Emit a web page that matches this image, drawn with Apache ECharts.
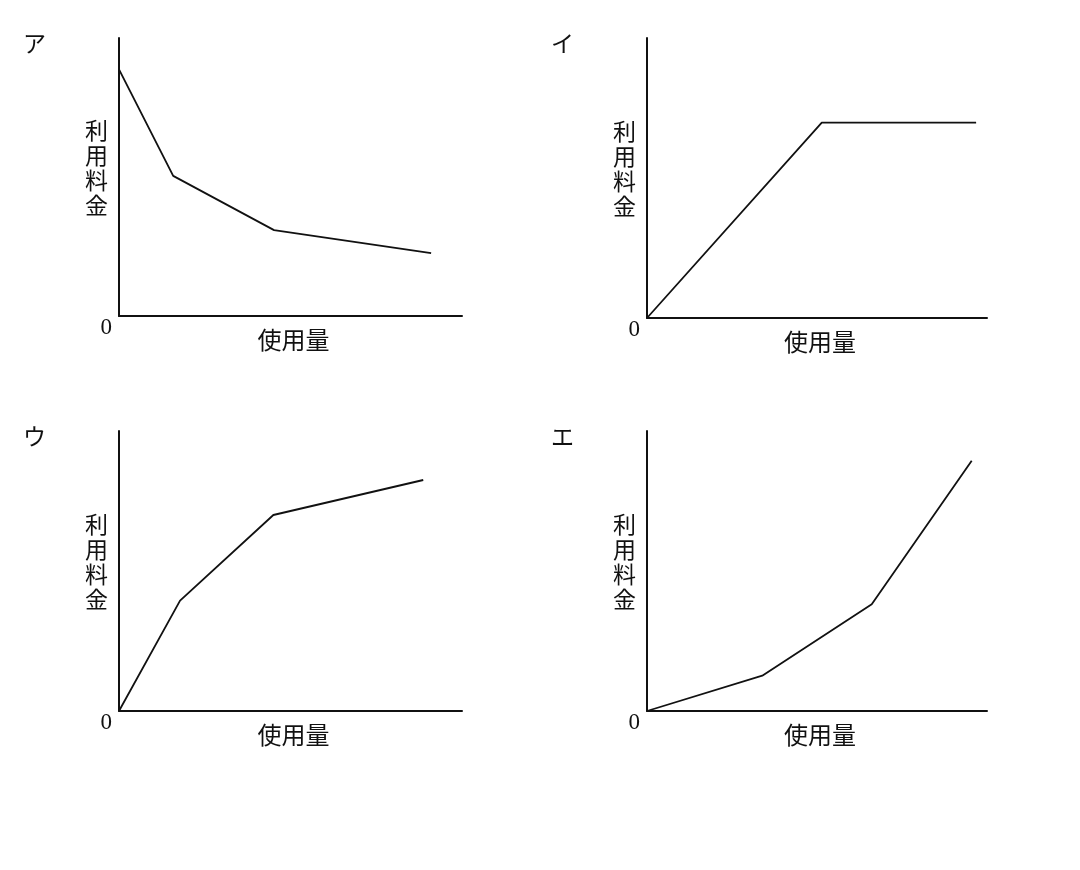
<!DOCTYPE html>
<html>
<head>
<meta charset="utf-8">
<script src="https://cdn.jsdelivr.net/npm/echarts@6/dist/echarts.min.js"></script>
<style>
  html, body { margin: 0; padding: 0; background: #fff; }
  #main { width: 1080px; height: 870px; }
</style>
</head>
<body>
<div id="main"></div>
<script>
// パネル名とラベル
const panelNames = ['ア', 'イ', 'ウ', 'エ'];
const xName = '使用量';
const yName = '利用料金';

// 各グラフの折れ線 [使用量, 利用料金] (0〜100 の相対値)
const lineA = [[0, 88.7], [15.8, 50.4], [45.2, 30.9], [91.0, 22.6]];
const lineI = [[0, 0], [51.4, 69.8], [96.8, 69.8]];
const lineU = [[0, 0], [17.8, 39.4], [45.0, 70.0], [88.7, 82.5]];
const lineE = [[0, 0], [33.9, 12.6], [66.1, 38.1], [95.5, 89.4]];
const allLines = [lineA, lineI, lineU, lineE];

const initCharts = () => {
    const dom = document.getElementById('main');
    const myChart = echarts.init(dom, null, { renderer: 'canvas' });

    const ink = '#111';
    const gridPos = [
        { left: 119, top: 38, width: 343, height: 278 },
        { left: 647, top: 38, width: 340, height: 280 },
        { left: 119, top: 431, width: 343, height: 280 },
        { left: 647, top: 431, width: 340, height: 280 }
    ];
    const titlePos = [
        { left: 23, top: 32 },
        { left: 551, top: 32 },
        { left: 23, top: 425 },
        { left: 551, top: 425 }
    ];

    // 縦書きの軸名 (下に空行を足して少し上に寄せる)
    const yNameRich = yName.split('').map(c => '{t|' + c + '}').join('\n') + '\n{s| }';

    const option = {
        backgroundColor: '#fff',
        title: panelNames.map((n, i) => ({
            text: n,
            left: titlePos[i].left,
            top: titlePos[i].top,
            padding: 0,
            textStyle: {
                fontFamily: 'Noto Sans CJK JP',
                fontSize: 23,
                fontWeight: 'normal',
                color: ink
            }
        })),
        grid: gridPos.map(g => Object.assign({ containLabel: false }, g)),
        xAxis: gridPos.map((g, i) => ({
            type: 'value',
            gridIndex: i,
            min: 0,
            max: 100,
            name: xName,
            nameLocation: 'middle',
            nameGap: 12,
            nameMoveOverlap: false,
            nameTextStyle: {
                fontFamily: 'Noto Sans CJK JP',
                fontSize: 24,
                color: ink,
                padding: [0, 0, 0, 6]
            },
            axisLine: { onZero: false, lineStyle: { color: ink, width: 2 } },
            axisTick: { show: false },
            axisLabel: { show: false },
            splitLine: { show: false }
        })),
        yAxis: gridPos.map((g, i) => ({
            type: 'value',
            gridIndex: i,
            min: 0,
            max: 100,
            name: yNameRich,
            nameLocation: 'middle',
            nameRotate: 0,
            nameGap: 11,
            nameMoveOverlap: false,
            nameTextStyle: {
                fontFamily: 'Noto Sans CJK JP',
                color: ink,
                rich: {
                    t: { fontFamily: 'Noto Sans CJK JP', fontSize: 23, lineHeight: 25, color: ink },
                    s: { fontSize: 10, lineHeight: 18 }
                }
            },
            axisLine: { show: true, onZero: false, lineStyle: { color: ink, width: 2 } },
            axisTick: { show: false },
            axisLabel: {
                show: true,
                showMinLabel: true,
                formatter: v => (v === 0 ? '0' : ''),
                fontFamily: 'Liberation Serif',
                fontSize: 23,
                color: ink,
                verticalAlign: 'top',
                margin: 7
            },
            splitLine: { show: false }
        })),
        series: allLines.map((d, i) => ({
            type: 'line',
            xAxisIndex: i,
            yAxisIndex: i,
            data: d,
            symbol: 'none',
            silent: true,
            lineStyle: { color: ink, width: 1.8 }
        }))
    };

    myChart.setOption(option);
    window.addEventListener('resize', myChart.resize);
};

initCharts();
</script>
</body>
</html>
